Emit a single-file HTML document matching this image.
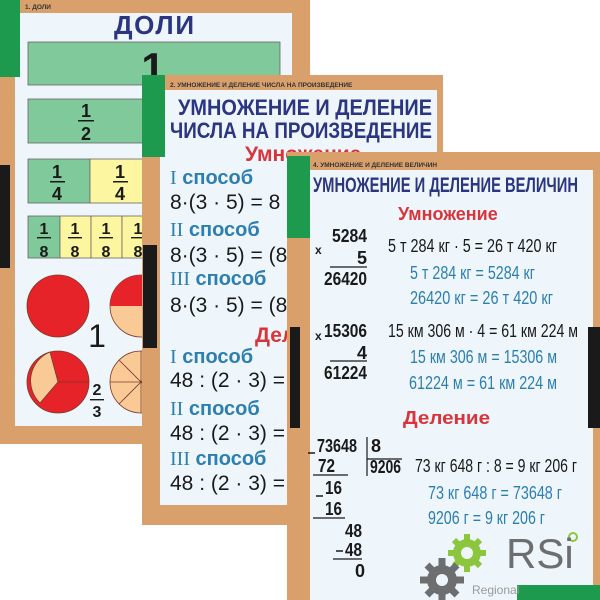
<!DOCTYPE html>
<html><head><meta charset="utf-8"><style>
html,body{margin:0;padding:0;background:#fff;width:600px;height:600px;overflow:hidden}
svg{display:block}
text{font-family:"Liberation Sans",sans-serif}
.b{font-weight:bold}
</style></head><body>
<svg width="600" height="600" viewBox="0 0 600 600" xmlns="http://www.w3.org/2000/svg">
<rect width="600" height="600" fill="#fff"/>
<!-- Poster 1 -->
<rect x="0" y="0" width="310" height="444" fill="#d9a06c"/>
<rect x="15" y="13" width="277" height="413" fill="#eef6fb"/>
<rect x="0" y="0" width="20" height="77" fill="#1e9a4e"/>
<rect x="0" y="165" width="10" height="103" fill="#1a1a1a"/>
<text x="25" y="9" font-size="6.5" class="b" fill="#333">1. ДОЛИ</text>
<text x="154" y="34" font-size="26" class="b" fill="#2b3580" text-anchor="middle" textLength="80" lengthAdjust="spacing">ДОЛИ</text>
<rect x="28" y="42" width="252" height="43" fill="#80c99b" stroke="#666" stroke-width="0.8"/>
<text x="153" y="82" font-size="42" class="b" fill="#1a1a1a" text-anchor="middle">1</text>
<rect x="28" y="99" width="252" height="44" fill="#80c99b" stroke="#666" stroke-width="0.8"/>
<rect x="28" y="159" width="62" height="44" fill="#80c99b" stroke="#666" stroke-width="0.8"/>
<rect x="90" y="159" width="190" height="44" fill="#fdf6a0" stroke="#666" stroke-width="0.8"/>
<g class="b" font-size="18" fill="#1a1a1a" text-anchor="middle">
<text x="86" y="117">1</text><text x="86" y="140">2</text>
<text x="57" y="178">1</text><text x="57" y="200">4</text>
<text x="120" y="178">1</text><text x="120" y="200">4</text>
</g>
<rect x="78" y="120" width="16" height="1.5" fill="#1a1a1a"/>
<rect x="50" y="181" width="15" height="1.5" fill="#1a1a1a"/>
<rect x="113" y="181" width="15" height="1.5" fill="#1a1a1a"/>
<rect x="28" y="216" width="32" height="42" fill="#80c99b" stroke="#666" stroke-width="0.8"/>
<rect x="60" y="216" width="31" height="42" fill="#fdf6a0" stroke="#666" stroke-width="0.8"/>
<rect x="91" y="216" width="31" height="42" fill="#fdf6a0" stroke="#666" stroke-width="0.8"/>
<rect x="122" y="216" width="31" height="42" fill="#fdf6a0" stroke="#666" stroke-width="0.8"/>
<g class="b" font-size="16" fill="#1a1a1a" text-anchor="middle">
<text x="44" y="234">1</text><text x="44" y="257">8</text>
<text x="75" y="234">1</text><text x="75" y="257">8</text>
<text x="106" y="234">1</text><text x="106" y="257">8</text>
<text x="138" y="234">1</text><text x="138" y="257">8</text>
</g>
<g fill="#1a1a1a"><rect x="37" y="237" width="14" height="1.4"/><rect x="68" y="237" width="14" height="1.4"/><rect x="99" y="237" width="14" height="1.4"/><rect x="131" y="237" width="14" height="1.4"/></g>
<circle cx="58" cy="306" r="31" fill="#e52329" stroke="#7a3a2a" stroke-width="0.8"/>
<circle cx="141" cy="306" r="31" fill="#f9c996" stroke="#7a3a2a" stroke-width="0.8"/>
<path d="M110 306 A31 31 0 0 1 172 306 Z" fill="#e52329"/>
<text x="97" y="347" font-size="32" fill="#1a1a1a" text-anchor="middle">1</text>
<circle cx="58" cy="382" r="31" fill="#e52329" stroke="#7a3a2a" stroke-width="0.8"/>
<path d="M58 382 L50 352 A31 31 0 0 0 40 403 Z" fill="#f9c996" stroke="#7a3a2a" stroke-width="0.8"/>
<line x1="58" y1="382" x2="89" y2="382" stroke="#7a3a2a" stroke-width="0.8"/>
<text x="97" y="395" font-size="16" class="b" fill="#1a1a1a" text-anchor="middle">2</text>
<rect x="90" y="399" width="14" height="1.4" fill="#1a1a1a"/>
<text x="97" y="417" font-size="16" class="b" fill="#1a1a1a" text-anchor="middle">3</text>
<circle cx="141" cy="382" r="31" fill="#f9c996" stroke="#7a3a2a" stroke-width="0.8"/>
<g stroke="#7a3a2a" stroke-width="0.8"><line x1="110" y1="382" x2="172" y2="382"/><line x1="141" y1="351" x2="141" y2="413"/><line x1="119" y1="360" x2="163" y2="404"/><line x1="119" y1="404" x2="163" y2="360"/></g>

<!-- Poster 2 -->
<rect x="142" y="75" width="301" height="450" fill="#d9a06c"/>
<rect x="160" y="90" width="277" height="415" fill="#eef6fb"/>
<rect x="142" y="75" width="23" height="82" fill="#1e9a4e"/>
<rect x="143" y="245" width="14" height="103" fill="#1a1a1a"/>
<text x="170" y="87" font-size="6.5" class="b" fill="#333">2. УМНОЖЕНИЕ И ДЕЛЕНИЕ ЧИСЛА НА ПРОИЗВЕДЕНИЕ</text>
<text x="178" y="115" font-size="22" class="b" fill="#2b3580" textLength="254" lengthAdjust="spacingAndGlyphs">УМНОЖЕНИЕ И ДЕЛЕНИЕ</text>
<text x="170" y="138" font-size="22" class="b" fill="#2b3580" textLength="262" lengthAdjust="spacingAndGlyphs">ЧИСЛА НА ПРОИЗВЕДЕНИЕ</text>
<text x="245" y="161" font-size="21" class="b" fill="#d8343c">Умножение</text>
<g font-size="20">
<text x="170" y="184" fill="#2d7fb0"><tspan font-family="Liberation Serif">I</tspan> <tspan class="b">способ</tspan></text>
<text x="170" y="209" fill="#1a1a1a" font-size="21">8·(3 · 5) = 8 · 15</text>
<text x="170" y="236" fill="#2d7fb0"><tspan font-family="Liberation Serif">II</tspan> <tspan class="b">способ</tspan></text>
<text x="170" y="262" fill="#1a1a1a" font-size="21">8·(3 · 5) = (8 · 3)</text>
<text x="170" y="285" fill="#2d7fb0"><tspan font-family="Liberation Serif">III</tspan> <tspan class="b">способ</tspan></text>
<text x="170" y="312" fill="#1a1a1a" font-size="21">8·(3 · 5) = (8 · 5)</text>
<text x="255" y="342" fill="#d8343c" class="b" font-size="21">Деление</text>
<text x="170" y="363" fill="#2d7fb0"><tspan font-family="Liberation Serif">I</tspan> <tspan class="b">способ</tspan></text>
<text x="170" y="387" fill="#1a1a1a" font-size="21">48 : (2 · 3) = 48</text>
<text x="170" y="415" fill="#2d7fb0"><tspan font-family="Liberation Serif">II</tspan> <tspan class="b">способ</tspan></text>
<text x="170" y="440" fill="#1a1a1a" font-size="21">48 : (2 · 3) = (48</text>
<text x="170" y="465" fill="#2d7fb0"><tspan font-family="Liberation Serif">III</tspan> <tspan class="b">способ</tspan></text>
<text x="170" y="490" fill="#1a1a1a" font-size="21">48 : (2 · 3) = (48</text>
</g>

<!-- Poster 3 -->
<rect x="287" y="152" width="313" height="448" fill="#d9a06c"/>
<rect x="310" y="170" width="283" height="430" fill="#eef6fb"/>
<rect x="287" y="156" width="23" height="82" fill="#1e9a4e"/>
<rect x="290" y="327" width="10" height="101" fill="#1a1a1a"/>
<rect x="588" y="327" width="12" height="101" fill="#1a1a1a"/>
<text x="313" y="167" font-size="6.5" class="b" fill="#333">4. УМНОЖЕНИЕ И ДЕЛЕНИЕ ВЕЛИЧИН</text>
<text x="313" y="192" font-size="21" class="b" fill="#2b3580" textLength="265" lengthAdjust="spacingAndGlyphs">УМНОЖЕНИЕ И ДЕЛЕНИЕ ВЕЛИЧИН</text>
<text x="398" y="220" font-size="18" class="b" fill="#d8343c">Умножение</text>
<g class="b" font-size="18" fill="#1a1a1a">
<text x="332" y="242" textLength="35" lengthAdjust="spacingAndGlyphs">5284</text>
<text x="315" y="254" font-size="12">x</text>
<text x="367" y="264" text-anchor="end">5</text>
<text x="324" y="285" textLength="43" lengthAdjust="spacingAndGlyphs">26420</text>
<text x="315" y="340" font-size="12">x</text>
<text x="324" y="337" textLength="43" lengthAdjust="spacingAndGlyphs">15306</text>
<text x="367" y="359" text-anchor="end">4</text>
<text x="324" y="379" textLength="43" lengthAdjust="spacingAndGlyphs">61224</text>
<text x="317" y="452" textLength="40" lengthAdjust="spacingAndGlyphs">73648</text>
<text x="371" y="452">8</text>
<text x="370" y="473" textLength="31" lengthAdjust="spacingAndGlyphs">9206</text>
<text x="318" y="472" textLength="17" lengthAdjust="spacingAndGlyphs">72</text>
<text x="325" y="494" textLength="17" lengthAdjust="spacingAndGlyphs">16</text>
<text x="325" y="515" textLength="17" lengthAdjust="spacingAndGlyphs">16</text>
<text x="345" y="537" textLength="17" lengthAdjust="spacingAndGlyphs">48</text>
<text x="345" y="556" textLength="17" lengthAdjust="spacingAndGlyphs">48</text>
<text x="355" y="577">0</text>
</g>
<g stroke="#1a1a1a" stroke-width="1.5">
<line x1="308" y1="453" x2="315" y2="453"/><line x1="316" y1="496" x2="323" y2="496"/><line x1="336" y1="551" x2="343" y2="551"/>
</g>
<g stroke="#1a1a1a" stroke-width="1.2">
<line x1="330" y1="267" x2="367" y2="267"/><line x1="330" y1="361" x2="367" y2="361"/>
<line x1="367" y1="437" x2="367" y2="476"/><line x1="367" y1="459" x2="402" y2="459"/>
<line x1="313" y1="475" x2="348" y2="475"/><line x1="313" y1="518" x2="345" y2="518"/><line x1="333" y1="559" x2="362" y2="559"/>
</g>
<g font-size="18">
<text x="388" y="252" fill="#1a1a1a" textLength="169" lengthAdjust="spacingAndGlyphs">5 т 284 кг · 5 = 26 т 420 кг</text>
<text x="410" y="279" fill="#2d7fb0" textLength="125" lengthAdjust="spacingAndGlyphs">5 т 284 кг = 5284 кг</text>
<text x="410" y="304" fill="#2d7fb0" textLength="143" lengthAdjust="spacingAndGlyphs">26420 кг = 26 т 420 кг</text>
<text x="388" y="337" fill="#1a1a1a" textLength="190" lengthAdjust="spacingAndGlyphs">15 км 306 м · 4 = 61 км 224 м</text>
<text x="410" y="363" fill="#2d7fb0" textLength="147" lengthAdjust="spacingAndGlyphs">15 км 306 м = 15306 м</text>
<text x="409" y="389" fill="#2d7fb0" textLength="148" lengthAdjust="spacingAndGlyphs">61224 м = 61 км 224 м</text>
<text x="403" y="424" fill="#d8343c" class="b" textLength="87" lengthAdjust="spacingAndGlyphs">Деление</text>
<text x="415" y="472" fill="#1a1a1a" textLength="162" lengthAdjust="spacingAndGlyphs">73 кг 648 г : 8 = 9 кг 206 г</text>
<text x="428" y="499" fill="#2d7fb0" textLength="134" lengthAdjust="spacingAndGlyphs">73 кг 648 г = 73648 г</text>
<text x="428" y="524" fill="#2d7fb0" textLength="117" lengthAdjust="spacingAndGlyphs">9206 г = 9 кг 206 г</text>
</g>
<!-- logo -->
<g fill="#8cc63f"><circle cx="467" cy="553" r="14"/>
<g stroke="#8cc63f" stroke-width="6"><line x1="467" y1="534" x2="467" y2="572"/><line x1="448" y1="553" x2="486" y2="553"/><line x1="454" y1="540" x2="480" y2="566"/><line x1="454" y1="566" x2="480" y2="540"/></g></g>
<circle cx="467" cy="553" r="6" fill="#eef6fb"/>
<g fill="#6d6e70"><circle cx="442" cy="580" r="15"/>
<g stroke="#6d6e70" stroke-width="7"><line x1="442" y1="558" x2="442" y2="600"/><line x1="420" y1="580" x2="464" y2="580"/><line x1="427" y1="565" x2="457" y2="595"/><line x1="427" y1="595" x2="457" y2="565"/></g></g>
<circle cx="442" cy="580" r="6" fill="#eef6fb"/>
<circle cx="573" cy="537" r="4" fill="none" stroke="#8cc63f" stroke-width="2"/>
<text x="506" y="568" font-size="42" font-family="Liberation Serif" fill="#6d6e70">RSi</text>
<rect x="517" y="585" width="83" height="15" fill="#1e9a4e"/>
<text x="472" y="594" font-size="12" font-family="Liberation Serif" fill="#9a9a9a">Regional</text>
</svg>
</body></html>
